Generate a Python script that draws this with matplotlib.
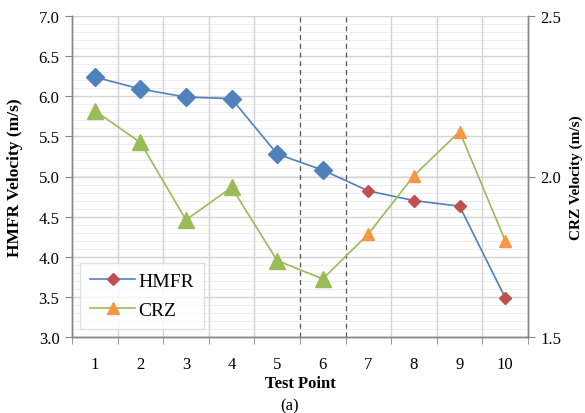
import numpy as np
import matplotlib.pyplot as plt
from matplotlib.lines import Line2D

plt.rcParams['font.family'] = ['Liberation Serif', 'DejaVu Serif']

# test points and measured velocities
points = np.arange(1, 11)
hmfr = [6.24, 6.09, 5.99, 5.97, 5.28, 5.08, 4.82, 4.70, 4.63, 3.49]
crz = [2.205, 2.106, 1.865, 1.966, 1.738, 1.681, 1.821, 2.003, 2.14, 1.80]
split = 6  # points after this one are drawn with the second marker colour

blue, red = '#4F81BD', '#C0504D'
green, orange = '#9BBB59', '#F79646'

fig = plt.figure(figsize=(5.85, 4.14), dpi=100)
ax1 = fig.add_axes([72/585, 1-338/414, (528-72)/585, (338-17)/414])
ax2 = ax1.twinx()

ax1.set_xlim(0.5, 10.5)
ax1.set_ylim(3.0, 7.0)
ax2.set_ylim(1.5, 2.5)

# grid: minor every 0.1, major every 0.5, vertical at category edges
for y in np.arange(3.0, 7.0001, 0.1):
    ax1.axhline(y, color='#EDEDED', lw=0.8, zorder=0)
for y in np.arange(3.0, 7.0001, 0.5):
    ax1.axhline(y, color='#D4D4D4', lw=1.0, zorder=0)
for x in np.arange(1.5, 10.5, 1.0):
    if x in (5.5, 6.5):
        ax1.axvline(x, color='#555555', lw=0.9, ls=(0, (4, 3)), zorder=1)
    else:
        ax1.axvline(x, color='#D4D4D4', lw=1.0, zorder=0)

ax1.plot(points, hmfr, color=blue, lw=1.2, zorder=3)
ax1.plot(points[:split], hmfr[:split], ls='none', marker='D', ms=9,
         color=blue, zorder=4)
ax1.plot(points[split:], hmfr[split:], ls='none', marker='D', ms=6,
         color=red, zorder=4)

ax2.plot(points, crz, color=green, lw=1.2, zorder=3)
ax2.plot(points[:split], crz[:split], ls='none', marker='^', ms=11,
         color=green, zorder=4)
ax2.plot(points[split:], crz[split:], ls='none', marker='^', ms=8,
         color=orange, zorder=4)

ax1.set_yticks(np.arange(3.0, 7.01, 0.5))
ax1.set_yticklabels([f'{v:.1f}' for v in np.arange(3.0, 7.01, 0.5)])
ax2.set_yticks([1.5, 2.0, 2.5])
ax2.set_yticklabels(['1.5', '2.0', '2.5'])
ax1.set_xticks(points)
ax1.set_xticklabels([str(p) for p in points])
ax1.set_xticks(np.arange(0.5, 10.6, 1.0), minor=True)
ax1.tick_params(axis='x', which='major', length=0, pad=14, labelsize=12)
ax1.tick_params(axis='x', which='minor', length=5, color='#868686')
ax1.tick_params(axis='y', length=5, color='#868686', labelsize=12, pad=4)
ax2.tick_params(axis='y', length=5, color='#868686', labelsize=12, pad=4)

for ax in (ax1, ax2):
    for s in ax.spines.values():
        s.set_color('#868686')
        s.set_linewidth(1.0)
ax1.spines['top'].set_visible(False)
ax2.spines['top'].set_visible(False)

ax1.set_xlabel('Test Point', fontweight='bold', fontsize=12, labelpad=2)
ax1.set_ylabel('HMFR Velocity (m/s)', fontweight='bold', fontsize=12.5, labelpad=11)
ax2.set_ylabel('CRZ Velocity (m/s)', fontweight='bold', fontsize=11, labelpad=6)
fig.text(290/585, 1-406/414, '(a)', ha='center', va='center', fontsize=12)

handles = [
    Line2D([], [], color=blue, lw=1.2, marker='D', ms=6,
           markerfacecolor=red, markeredgecolor=red),
    Line2D([], [], color=green, lw=1.2, marker='^', ms=8,
           markerfacecolor=orange, markeredgecolor=orange),
]
leg = ax2.legend(handles, ['HMFR', 'CRZ'], loc='lower left',
                 bbox_to_anchor=(0.0175, 0.025), borderaxespad=0,
                 fontsize=14, frameon=True, fancybox=False,
                 handlelength=2.35, borderpad=0.5, labelspacing=0.6,
                 handletextpad=0.15)
leg.get_frame().set_edgecolor('#D9D9D9')
leg.get_frame().set_linewidth(1.0)

fig.savefig('out.png', dpi=100)
